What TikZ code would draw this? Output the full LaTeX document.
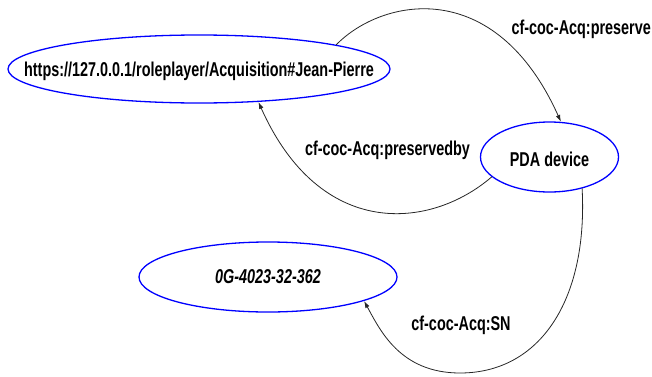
\documentclass[tikz,border=0pt]{standalone}
\usepackage{fontspec}
\setmainfont[FakeStretch=0.72]{Liberation Sans Bold}
\newfontfamily\labelitfont[FakeStretch=0.72]{Liberation Sans Bold Italic}
\usetikzlibrary{shapes.geometric,arrows.meta}

% zero-width box, so that the ellipse size is set by minimum width/height only
\newcommand{\restext}[1]{\makebox[0pt]{#1}}

\begin{document}
\begin{tikzpicture}[x=1pt,y=1pt,
  every node/.style={font=\fontsize{20}{24}\selectfont},
  res/.style={ellipse, draw=blue, line width=1.3pt, inner sep=0pt,
              text height=#1, text depth=0pt},
  res/.default=14pt,
  rel/.style={draw=black!85, line width=0.8pt,
              -{Latex[length=7pt,width=4.5pt]}},
  rellabel/.style={anchor=base, inner sep=0pt}
]
\useasboundingbox (0,0) rectangle (652,376);

% resources
\node[res, minimum width=382pt, minimum height=68pt] (jp) at (199,307)
  {\restext{https://127.0.0.1/roleplayer/Acquisition\#Jean-Pierre}};
\node[res=18pt, minimum width=138pt, minimum height=70pt] (pda) at (549.5,219)
  {\restext{PDA device}};
\node[res=12pt, minimum width=258pt, minimum height=70pt] (sn) at (268,99)
  {\restext{\labelitfont 0G-4023-32-362}};

% properties
\draw[rel] (jp.10) .. controls (382,378) and (495,401) .. (pda.72);
\draw[rel] (pda.199) .. controls (430,146) and (320,136) .. (jp.331);
\draw[rel] (pda.316) .. controls (588,76) and (540,3) .. (460,3)
                     .. controls (400,3) and (380,46) .. (sn.346);

% property labels
\node[rellabel, anchor=base east] (lpres) at (651,342) {cf-coc-Acq:preserve};
\node[rellabel] (lpresby) at (387.5,221) {cf-coc-Acq:preservedby};
\node[rellabel] (lsn) at (461,46) {cf-coc-Acq:SN};
\end{tikzpicture}
\end{document}
